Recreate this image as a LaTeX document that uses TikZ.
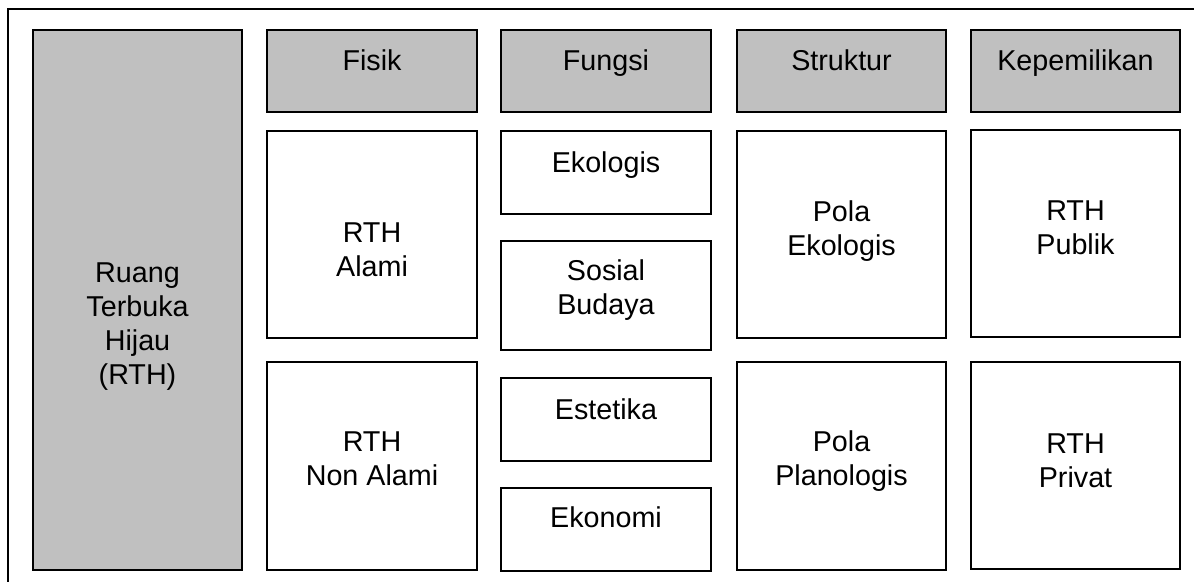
\documentclass[tikz,border=0pt]{standalone}
\usepackage{fontspec}
\setmainfont{Liberation Sans}
\definecolor{boxgray}{RGB}{192,192,192}
\begin{document}
\begin{tikzpicture}[x=1pt,y=-1pt,
  box/.style={draw=black, line width=2.6pt, inner sep=0pt, fill=white},
  hdr/.style={box, fill=boxgray},
  txt/.style={anchor=base, align=center, inner sep=0pt, text=black,
    font=\fontsize{28.7}{34}\selectfont}]
\useasboundingbox (0,0) rectangle (1194,581);
\clip (0,0) rectangle (1194,581);
\draw[line width=2.6pt] (8,9) rectangle (1200,590);
% left main box
\node[hdr, minimum width=209pt, minimum height=540pt] (rth) at (137.5,300) {};
% headers
\node[hdr, minimum width=210pt, minimum height=82pt] (fisik) at (372,71) {};
\node[hdr, minimum width=210pt, minimum height=82pt] (fungsi) at (606,71) {};
\node[hdr, minimum width=209pt, minimum height=82pt] (struktur) at (841.5,71) {};
\node[hdr, minimum width=209pt, minimum height=82pt] (milik) at (1075.5,71) {};
% Fisik column
\node[box, minimum width=210pt, minimum height=207pt] (alami) at (372,234.5) {};
\node[box, minimum width=210pt, minimum height=208pt] (nonalami) at (372,466) {};
% Fungsi column
\node[box, minimum width=210pt, minimum height=83pt] (ekologis) at (606,172.5) {};
\node[box, minimum width=210pt, minimum height=109pt] (sosial) at (606,295.5) {};
\node[box, minimum width=210pt, minimum height=83pt] (estetika) at (606,419.5) {};
\node[box, minimum width=210pt, minimum height=83pt] (ekonomi) at (606,529.5) {};
% Struktur column
\node[box, minimum width=209pt, minimum height=207pt] (polaeko) at (841.5,234.5) {};
\node[box, minimum width=209pt, minimum height=208pt] (polaplan) at (841.5,466) {};
% Kepemilikan column
\node[box, minimum width=209pt, minimum height=207pt] (publik) at (1075.5,233.5) {};
\node[box, minimum width=209pt, minimum height=207pt] (privat) at (1075.5,465.5) {};
% texts (multi-line nodes: base anchor = last line baseline)
\node[txt] (t-rth) at (137.5,384) {Ruang\\Terbuka\\Hijau\\(RTH)};
\node[txt] (t-fisik) at (372,70) {Fisik};
\node[txt] (t-fungsi) at (606,70) {Fungsi};
\node[txt] (t-struktur) at (841.5,70) {Struktur};
\node[txt] (t-milik) at (1075.5,70) {Kepemilikan};
\node[txt] (t-alami) at (372,276) {RTH\\Alami};
\node[txt] (t-nonalami) at (372,485) {RTH\\Non Alami};
\node[txt] (t-ekologis) at (606,172) {Ekologis};
\node[txt] (t-sosial) at (606,314) {Sosial\\Budaya};
\node[txt] (t-estetika) at (606,419) {Estetika};
\node[txt] (t-ekonomi) at (606,527) {Ekonomi};
\node[txt] (t-polaeko) at (841.5,255) {Pola\\Ekologis};
\node[txt] (t-polaplan) at (841.5,485) {Pola\\Planologis};
\node[txt] (t-publik) at (1075.5,254) {RTH\\Publik};
\node[txt] (t-privat) at (1075.5,487) {RTH\\Privat};
\end{tikzpicture}
\end{document}
